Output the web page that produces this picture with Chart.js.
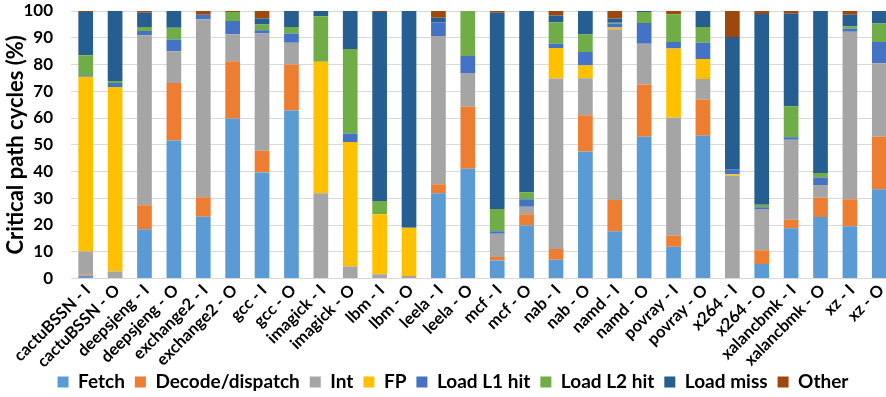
<!DOCTYPE html>
<html lang="en">
<head>
  <meta charset="UTF-8">
  <title>Critical path cycles</title>
  <script src="https://cdn.jsdelivr.net/npm/chart.js"></script>
  <style>
    html, body { margin: 0; padding: 0; overflow: hidden; background: #fff; }
    #wrap { width: 896px; height: 397px; }
  </style>
</head>
<body>
  <div id="wrap"><canvas id="chart" width="896" height="397"></canvas></div>
  <script>
    const labels = [
      'cactuBSSN - I', 'cactuBSSN - O', 'deepsjeng - I', 'deepsjeng - O',
      'exchange2 - I', 'exchange2 - O', 'gcc - I', 'gcc - O',
      'imagick - I', 'imagick - O', 'lbm - I', 'lbm - O',
      'leela - I', 'leela - O', 'mcf - I', 'mcf - O',
      'nab - I', 'nab - O', 'namd - I', 'namd - O',
      'povray - I', 'povray - O', 'x264 - I', 'x264 - O',
      'xalancbmk - I', 'xalancbmk - O', 'xz - I', 'xz - O'
    ];

    const fetchCycles = [1.0, 0, 18.4, 51.6, 23.1, 59.8, 39.6, 62.8, 0, 0, 0, 0, 31.9, 41.0, 6.7, 19.8, 7.0, 47.5, 17.7, 53.0, 11.9, 53.4, 0, 5.4, 18.8, 23.0, 19.5, 33.4];
    const decodeCycles = [0.4, 0, 9.0, 21.5, 7.3, 21.4, 8.2, 17.2, 0, 0, 0, 0, 3.3, 23.2, 1.3, 4.2, 4.0, 13.5, 11.6, 19.5, 4.1, 13.5, 0, 5.2, 3.2, 7.2, 10.1, 19.6];
    const intCycles = [8.7, 2.6, 63.5, 11.9, 66.5, 10.1, 43.8, 8.1, 31.9, 4.5, 1.6, 0.9, 55.5, 12.6, 8.7, 2.8, 63.8, 13.9, 63.9, 15.3, 44.1, 7.7, 38.4, 15.4, 29.9, 4.8, 62.6, 27.5];
    const fpCycles = [65.3, 69.0, 0, 0, 0, 0, 0, 0, 49.1, 46.5, 22.4, 18.1, 0, 0, 0, 0, 11.4, 4.7, 0.6, 0, 25.9, 7.5, 0.6, 0, 0, 0, 0, 0];
    const l1HitCycles = [0.6, 1.5, 1.6, 4.3, 1.7, 5.0, 1.2, 3.5, 0, 3.2, 0, 0, 5.0, 6.4, 1.0, 2.8, 1.6, 5.1, 1.5, 7.7, 2.4, 6.0, 1.8, 0.6, 0.9, 2.8, 1.2, 7.9];
    const l2HitCycles = [7.5, 0.7, 1.5, 4.4, 0, 3.3, 2.2, 2.4, 17.0, 31.6, 5.0, 0, 0, 16.8, 8.3, 2.6, 8.0, 6.5, 0.3, 4.1, 10.4, 5.9, 0, 1.0, 11.6, 1.6, 0.8, 6.9];
    const missCycles = [16.1, 26.2, 5.3, 6.3, 0, 0, 2.2, 6.0, 2.0, 14.2, 70.6, 81.0, 1.8, 0, 73.3, 67.8, 2.5, 8.8, 1.6, 0.4, 0, 6.0, 49.5, 71.3, 34.6, 60.6, 4.4, 4.7];
    const otherCycles = [0.4, 0, 0.7, 0, 1.4, 0.4, 2.8, 0, 0, 0, 0.4, 0, 2.5, 0, 0.7, 0, 1.7, 0, 2.8, 0, 1.2, 0, 9.7, 1.1, 1.0, 0, 1.4, 0];

    const yTicks = [0, 10, 20, 30, 40, 50, 60, 70, 80, 90, 100];

    const series = [
      ['Fetch', fetchCycles, '#5B9BD5'],
      ['Decode/dispatch', decodeCycles, '#ED7D31'],
      ['Int', intCycles, '#A5A5A5'],
      ['FP', fpCycles, '#FFC000'],
      ['Load L1 hit', l1HitCycles, '#4472C4'],
      ['Load L2 hit', l2HitCycles, '#70AD47'],
      ['Load miss', missCycles, '#255E91'],
      ['Other', otherCycles, '#9E480E']
    ];

    const font = 'Lato, "Open Sans", sans-serif';

    new Chart(document.getElementById('chart'), {
      type: 'bar',
      data: {
        labels: labels,
        datasets: series.map(([name, values, color]) => ({
          label: name,
          data: values,
          backgroundColor: color,
          borderWidth: 0,
          barPercentage: 0.5,
          categoryPercentage: 1.0
        }))
      },
      options: {
        responsive: false,
        animation: false,
        // left pad centres the legend like the original; negative bottom pad drops it to the edge
        layout: {padding: {left: 12, right: 2, top: 11, bottom: -4.5}},
        plugins: {
          legend: {
            position: 'bottom',
            labels: {
              boxWidth: 11,
              boxHeight: 11,
              padding: 10,
              color: '#000',
              font: {family: font, size: 19, weight: 'bold'}
            }
          },
          tooltip: {enabled: false}
        },
        scales: {
          x: {
            stacked: true,
            grid: {display: false, drawTicks: false},
            border: {display: true, color: '#d9d9d9'},
            afterFit: s => {
              // fixed label band, and let the slanted labels run past it unclipped
              s.height = 84;
              s._computeLabelArea = () => null;
            },
            ticks: {
              autoSkip: false,
              maxRotation: 45,
              minRotation: 45,
              padding: 2,
              labelOffset: 2,
              color: '#000',
              font: {family: font, size: 16.5, weight: 'bold'}
            }
          },
          y: {
            stacked: true,
            min: 0,
            max: 100,
            afterBuildTicks: axis => { axis.ticks = yTicks.map(v => ({value: v})); },
            afterFit: s => { s.width = 59; s.paddingTop = 0; s.paddingBottom = 0; },
            grid: {color: '#d9d9d9', lineWidth: 1, drawTicks: false},
            border: {display: false},
            ticks: {
              padding: 18,
              color: '#000',
              font: {family: font, size: 17, weight: 'bold'}
            },
            title: {
              display: true,
              text: 'Critical path cycles (%)',
              color: '#000',
              padding: {top: -9, bottom: 0},
              font: {family: font, size: 22, weight: 'bold'}
            }
          }
        }
      }
    });
  </script>
</body>
</html>
